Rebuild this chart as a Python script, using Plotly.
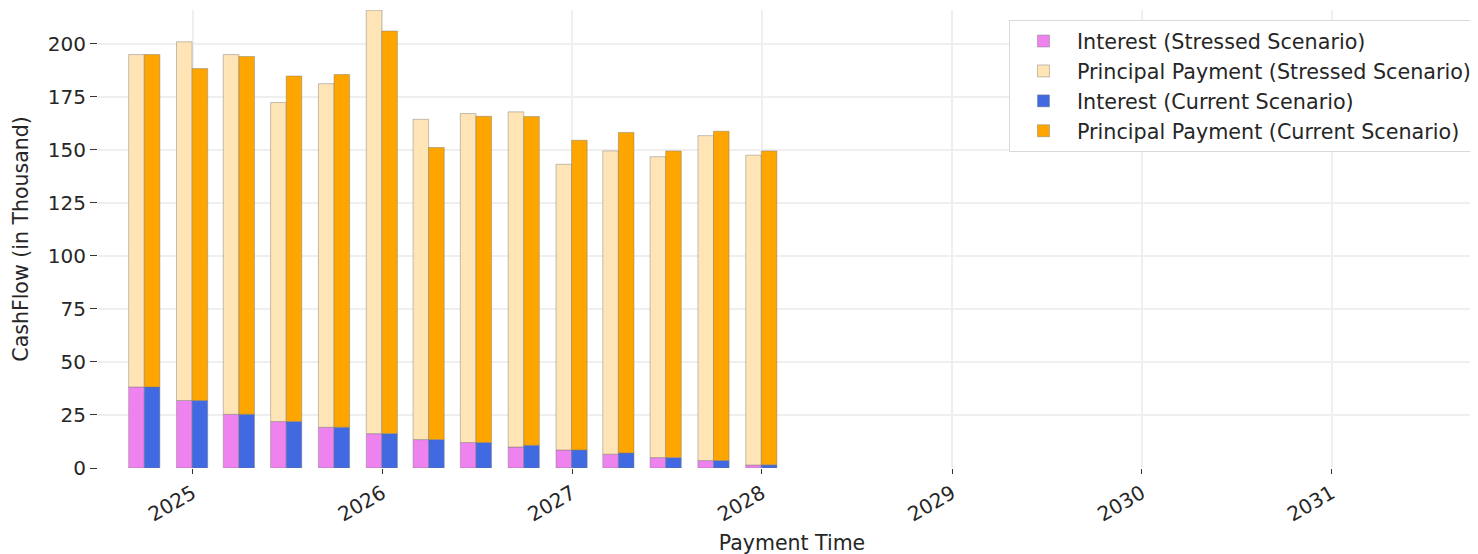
import plotly.graph_objects as go

dates = ["2024-09-30", "2024-12-31", "2025-03-31", "2025-06-30", "2025-09-30", "2025-12-31",
         "2026-03-31", "2026-06-30", "2026-09-30", "2026-12-31", "2027-03-31", "2027-06-30",
         "2027-09-30", "2027-12-31"]

stressed_interest = [38.2, 31.8, 25.3, 21.9, 19.2, 16.2, 13.4, 12.0, 9.9, 8.5, 6.5, 4.9, 3.5, 1.4]
stressed_total = [194.8, 200.8, 194.8, 172.2, 181.1, 215.7, 164.3, 167.0, 167.8, 143.1, 149.4, 146.7, 156.6, 147.4]
current_interest = [38.2, 31.8, 25.3, 21.9, 19.2, 16.2, 13.4, 12.0, 10.7, 8.5, 7.1, 4.9, 3.5, 1.5]
current_total = [194.8, 188.2, 193.9, 184.7, 185.4, 205.9, 151.0, 165.7, 165.6, 154.4, 158.1, 149.4, 158.7, 149.4]

stressed_principal = [t - i for t, i in zip(stressed_total, stressed_interest)]
current_principal = [t - i for t, i in zip(current_total, current_interest)]

DAY_MS = 86400000
W = 30 * DAY_MS
edge = dict(color="rgba(120,120,120,0.55)", width=0.8)

fig = go.Figure()
fig.add_trace(go.Bar(x=dates, y=stressed_interest, name="Interest (Stressed Scenario)",
                     marker=dict(color="#EE82EE", line=edge), width=W, offset=-W))
fig.add_trace(go.Bar(x=dates, y=stressed_principal, base=stressed_interest,
                     name="Principal Payment (Stressed Scenario)",
                     marker=dict(color="#FFE4B5", line=edge), width=W, offset=-W))
fig.add_trace(go.Bar(x=dates, y=current_interest, name="Interest (Current Scenario)",
                     marker=dict(color="#4169E1", line=edge), width=W, offset=0))
fig.add_trace(go.Bar(x=dates, y=current_principal, base=current_interest,
                     name="Principal Payment (Current Scenario)",
                     marker=dict(color="#FFA500", line=edge), width=W, offset=0))

fig.update_layout(
    width=1478, height=554,
    barmode="overlay",
    paper_bgcolor="white", plot_bgcolor="white",
    font=dict(family="DejaVu Sans", size=20, color="#262626"),
    margin=dict(l=90, r=0, t=2, b=94, autoexpand=False),
    showlegend=True,
    legend=dict(x=0.9935, y=0.978, xanchor="right", yanchor="top",
                bgcolor="white", bordercolor="#d9d9d9", borderwidth=1,
                font=dict(size=20.7, color="#262626"), traceorder="normal",
                itemwidth=57, tracegroupgap=0),
)
fig.update_xaxes(
    type="date", range=["2024-07-03", "2031-10-25"],
    tick0="2025-01-01", dtick="M12", tickformat="%Y", tickangle=-30,
    showgrid=True, gridcolor="#efefef", gridwidth=2,
    ticks="outside", ticklen=5, tickwidth=1.2, tickcolor="#333",
    showline=False, zeroline=False,
    title=dict(text="Payment Time", font=dict(size=20.5), standoff=10),
)
fig.update_yaxes(
    range=[0, 215.8], tickmode="array", tickvals=[0, 25, 50, 75, 100, 125, 150, 175, 200],
    showgrid=True, gridcolor="#efefef", gridwidth=2,
    ticks="outside", ticklen=7, tickwidth=1.2, tickcolor="#333",
    showline=False, zeroline=False,
    title=dict(text="CashFlow (in Thousand)", font=dict(size=20.5), standoff=13),
)

fig.write_html("out.html")
